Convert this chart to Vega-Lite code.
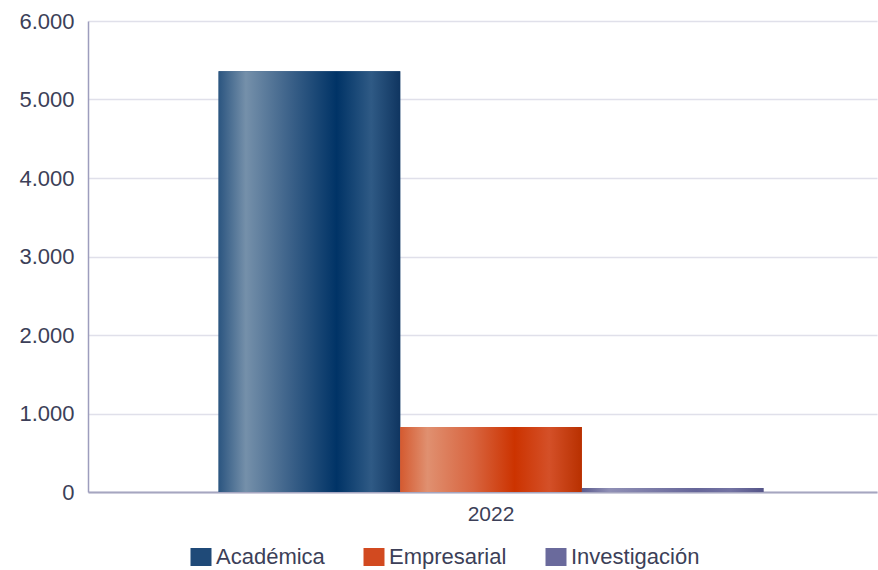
{
  "$schema": "https://vega.github.io/schema/vega-lite/v6.json",
  "width": 789,
  "height": 471,
  "autosize": {"type": "none"},
  "padding": {"left": 88, "top": 21, "right": 1, "bottom": 78},
  "background": "white",
  "config": {
    "locale": {"number": {"decimal": ",", "thousands": ".", "grouping": [3], "currency": ["", " €"]}},
    "view": {"stroke": null},
    "font": "Liberation Sans"
  },
  "data": {
    "values": [
      {"anio": "2022", "tipo": "Académica", "valor": 5360},
      {"anio": "2022", "tipo": "Empresarial", "valor": 828},
      {"anio": "2022", "tipo": "Investigación", "valor": 50}
    ]
  },
  "encoding": {
    "x": {
      "field": "anio",
      "type": "nominal",
      "scale": {"paddingInner": 0, "paddingOuter": 0.224, "align": 0.535},
      "axis": {
        "title": null,
        "labelAngle": 0,
        "labelFontSize": 21,
        "labelColor": "#3c3f58",
        "labelPadding": 11,
        "ticks": false,
        "domainColor": "#a6a6c0",
        "domainWidth": 2,
        "grid": false
      }
    },
    "xOffset": {
      "field": "tipo",
      "type": "nominal",
      "sort": ["Académica", "Empresarial", "Investigación"],
      "scale": {"paddingInner": 0, "paddingOuter": 0}
    },
    "y": {
      "field": "valor",
      "type": "quantitative",
      "scale": {"domain": [0, 6000], "nice": false},
      "axis": {
        "title": null,
        "values": [0, 1000, 2000, 3000, 4000, 5000, 6000],
        "format": ",d",
        "labelFontSize": 22,
        "labelColor": "#3c3f58",
        "labelPadding": 14,
        "ticks": false,
        "domainColor": "#9d9dbd",
        "domainWidth": 1.5,
        "gridColor": "#e0e0ea",
        "gridWidth": 1.5
      }
    }
  },
  "layer": [
    {
      "mark": {"type": "bar", "strokeWidth": 0},
      "encoding": {
        "color": {
          "field": "tipo",
          "type": "nominal",
          "sort": ["Académica", "Empresarial", "Investigación"],
          "scale": {
            "domain": ["Académica", "Empresarial", "Investigación"],
            "range": ["#1f4a78", "#d24a20", "#6a6a9c"]
          },
          "legend": {
            "title": null,
            "orient": "none",
            "direction": "horizontal",
            "legendX": 102,
            "legendY": 525,
            "labelFontSize": 22,
            "labelColor": "#3c3f58",
            "labelOffset": 4,
            "columnPadding": 38,
            "symbolType": "M-1,-0.857H1V0.857H-1Z",
            "symbolSize": 441,
            "symbolStrokeWidth": 0,
            "symbolOpacity": 1
          }
        }
      }
    },
    {
      "transform": [{"filter": "datum.tipo === 'Académica'"}],
      "mark": {"type": "bar", "strokeWidth": 0, "color": {"gradient": "linear", "x1": 0, "y1": 0, "x2": 1, "y2": 0, "stops": [
        {"offset": 0, "color": "#2b5580"},
        {"offset": 0.15, "color": "#7590aa"},
        {"offset": 0.4, "color": "#3a6088"},
        {"offset": 0.65, "color": "#003366"},
        {"offset": 0.84, "color": "#2f5a85"},
        {"offset": 1, "color": "#0f3560"}
      ]}}
    },
    {
      "transform": [{"filter": "datum.tipo === 'Empresarial'"}],
      "mark": {"type": "bar", "strokeWidth": 0, "color": {"gradient": "linear", "x1": 0, "y1": 0, "x2": 1, "y2": 0, "stops": [
        {"offset": 0, "color": "#d45a30"},
        {"offset": 0.15, "color": "#e09070"},
        {"offset": 0.4, "color": "#d86540"},
        {"offset": 0.63, "color": "#cc3300"},
        {"offset": 0.82, "color": "#d45028"},
        {"offset": 1, "color": "#b83000"}
      ]}}
    },
    {
      "transform": [{"filter": "datum.tipo === 'Investigación'"}],
      "mark": {"type": "bar", "strokeWidth": 0, "color": {"gradient": "linear", "x1": 0, "y1": 0, "x2": 1, "y2": 0, "stops": [
        {"offset": 0, "color": "#5c5c8e"},
        {"offset": 0.15, "color": "#8f8fb5"},
        {"offset": 0.63, "color": "#666699"},
        {"offset": 0.82, "color": "#7373a3"},
        {"offset": 1, "color": "#555588"}
      ]}}
    }
  ]
}
